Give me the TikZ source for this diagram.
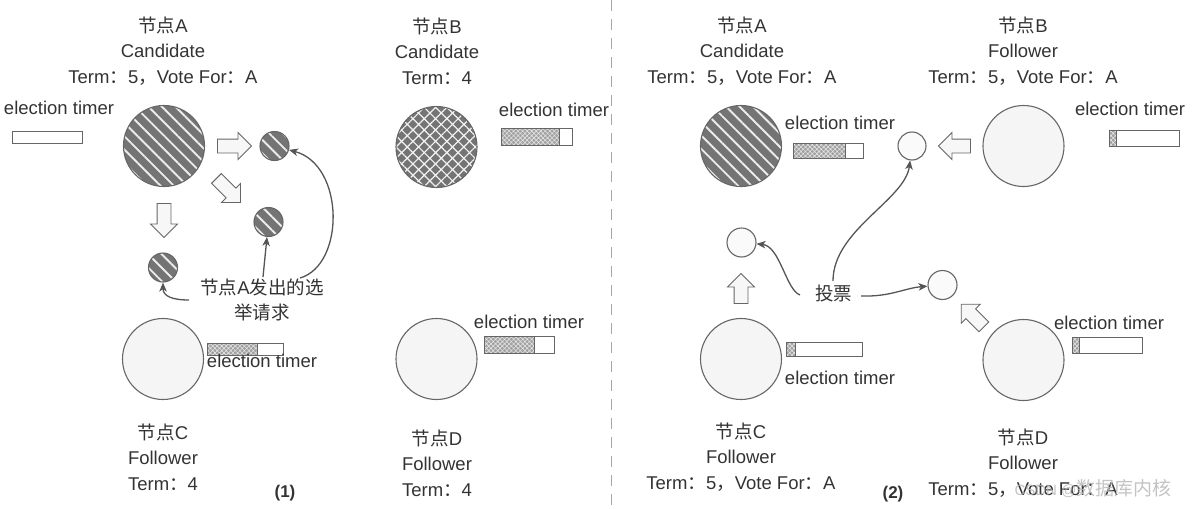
\documentclass[tikz,border=0pt]{standalone}
\usepackage{fontspec}
\setmainfont{Liberation Sans}
\newfontfamily\cjk{Noto Sans CJK SC}
\usetikzlibrary{shapes.arrows,arrows.meta,patterns.meta}
\newcommand\zh[1]{{\cjk #1}}
\definecolor{txt}{HTML}{333333}
\definecolor{cline}{HTML}{666666}
\definecolor{aline}{HTML}{555555}
\definecolor{hfill}{HTML}{747474}
\definecolor{ffill}{HTML}{F5F5F5}
\definecolor{tfillc}{HTML}{A0A0A0}
\newcommand\etimer[5]{%
  \path[preaction={fill=tfillc}, pattern={Hatch[angle=45,distance=3.2pt,line width=0.6pt]}, pattern color=white!80!gray] (#1,#2) rectangle (#5,#4);
  \draw[tbox] (#1,#2) rectangle (#3,#4);
  \draw[tbox] (#5,#2) -- (#5,#4);}
\begin{document}
\begin{tikzpicture}[x=1pt,y=-1pt,
  every node/.style={text=txt},
  lbl/.style={align=center, font=\fontsize{18.5}{25.5}\selectfont, inner sep=0pt},
  tlbl/.style={font=\fontsize{18.5}{22}\selectfont, inner sep=0pt},
  bigc/.style={circle, draw=cline, line width=1.1pt, minimum size=81pt, inner sep=0pt},
  smallc/.style={circle, draw=cline, line width=1.1pt, minimum size=29pt, inner sep=0pt},
  follower/.style={fill=ffill},
  striped/.style={preaction={fill=hfill}, pattern={Lines[angle=-45,distance=9.5pt,line width=1.9pt]}, pattern color=white!85!gray},
  crossed/.style={preaction={fill=hfill}, pattern={Hatch[angle=45,distance=8pt,line width=1.2pt]}, pattern color=white!90!gray},
  blockarrow/.style={single arrow, draw=cline, fill=gray!6, line width=0.9pt, minimum height=34pt, inner xsep=0pt, inner ysep=6.5pt, single arrow head extend=6.5pt, single arrow tip angle=90},
  tbox/.style={draw=cline, line width=0.9pt},
  conn/.style={draw=aline, line width=1.3pt, -{Stealth[length=9pt,width=7.5pt,inset=2.5pt]}},
  dashline/.style={draw=gray!70, line width=1pt, dash pattern=on 11pt off 8pt}]
\useasboundingbox (0,0) rectangle (1195,509);

% ---------------- panel (1) ----------------
\node[lbl] (labA1) at (163,51) {\zh{节点}A\\Candidate\\Term\zh{：}5\zh{，}Vote For\zh{：}A};
\node[tlbl] (etA1) at (59,108) {election timer};
\draw[tbox, fill=white] (12,131) rectangle (82,143);
\node[bigc, striped] (A1) at (164,146) {};
\node[blockarrow, rotate=0] (ba1) at (231,146) {};
\node[blockarrow, rotate=-45] (ba2) at (226,188) {};
\node[blockarrow, rotate=-90] (ba3) at (164,217) {};
\node[smallc, striped] (m1) at (274.5,146) {};
\node[smallc, striped] (m2) at (268.5,222) {};
\node[smallc, striped] (m3) at (163,267.5) {};
\node[lbl] (req) at (262,300) {\zh{节点}A\zh{发出的选}\\\zh{举请求}};
\coordinate (r1) at (189,300);
\coordinate (r2) at (263,277);
\coordinate (r3) at (300,278);
\draw[conn] (r1) .. controls (172,300) and (163,296) .. (m3);
\draw[conn] (r2) -- (m2);
\draw[conn] (r3) .. controls (345,265) and (345,165) .. (m1);

\node[bigc, follower] (C1) at (163,359) {};
\etimer{207}{343}{283}{355}{257}
\node[tlbl] (etC1) at (262,361) {election timer};
\node[lbl] (labC1) at (163,457) {\zh{节点}C\\Follower\\Term\zh{：}4};
\node[font=\bfseries\fontsize{17}{20}\selectfont, inner sep=0pt] (n1) at (285,493) {(1)};

\node[lbl] (labB1) at (437,51) {\zh{节点}B\\Candidate\\Term\zh{：}4};
\node[bigc, crossed] (B1) at (436.5,147) {};
\node[tlbl] (etB1) at (554,110) {election timer};
\etimer{501}{128}{572}{145}{559}

\node[bigc, follower] (D1) at (436.5,359) {};
\node[tlbl] (etD1) at (529,322) {election timer};
\etimer{484}{336}{554}{353}{534}
\node[lbl] (labD1) at (437,463) {\zh{节点}D\\Follower\\Term\zh{：}4};

\draw[dashline] (611,0) -- (611,509);

% ---------------- panel (2) ----------------
\node[lbl] (labA2) at (742,51) {\zh{节点}A\\Candidate\\Term\zh{：}5\zh{，}Vote For\zh{：}A};
\node[bigc, striped] (A2) at (741,146) {};
\node[tlbl] (etA2) at (840,123) {election timer};
\etimer{793}{143}{863}{158}{845}
\node[smallc, fill=gray!4, minimum size=28pt] (s2) at (912,146) {};
\node[blockarrow, rotate=180, minimum height=32pt] (bb1) at (958,146) {};
\node[bigc, follower] (B2) at (1023.5,146) {};
\node[lbl] (labB2) at (1023,51) {\zh{节点}B\\Follower\\Term\zh{：}5\zh{，}Vote For\zh{：}A};
\node[tlbl] (etB2) at (1130,109) {election timer};
\etimer{1109}{130}{1179}{146}{1116}

\node[smallc, fill=gray!4] (s1) at (741.5,242.5) {};
\node[smallc, fill=gray!4] (s3) at (942.5,285) {};
\node[blockarrow, rotate=90, minimum height=30pt] (bb2) at (741,292) {};
\node[bigc, follower] (C2) at (741,359) {};
\etimer{786}{342}{862}{356}{795}
\node[tlbl] (etC2) at (840,378) {election timer};
\node[lbl] (labC2) at (741,457) {\zh{节点}C\\Follower\\Term\zh{：}5\zh{，}Vote For\zh{：}A};
\node[font=\bfseries\fontsize{17}{20}\selectfont, inner sep=0pt] (n2) at (893,494) {(2)};

\node[lbl] (vote) at (833.5,293.5) {\zh{投票}};
\coordinate (v1) at (800,295);
\coordinate (v2) at (833,281);
\coordinate (v3) at (861,296);
\draw[conn] (v1) .. controls (786,290) and (780,246) .. (s1);
\draw[conn] (v2) .. controls (833,230) and (905,200) .. (s2);
\draw[conn] (v3) .. controls (890,297) and (905,288) .. (s3);
\node[blockarrow, rotate=135, minimum height=32pt] (bb3) at (975,318) {};

\node[bigc, follower] (D2) at (1023.5,360) {};
\node[tlbl] (etD2) at (1109,323) {election timer};
\etimer{1072}{337}{1142}{353}{1079}
\node[lbl] (labD2) at (1023,463) {\zh{节点}D\\Follower\\Term\zh{：}5\zh{，}Vote For\zh{：}A};
\node[inner sep=0pt, text=gray!55, opacity=0.85] (wm) at (1093,489) {\fontsize{15}{18}\selectfont CSDN @{\cjk\fontsize{19}{20}\selectfont 数据库内核}};
\end{tikzpicture}
\end{document}
